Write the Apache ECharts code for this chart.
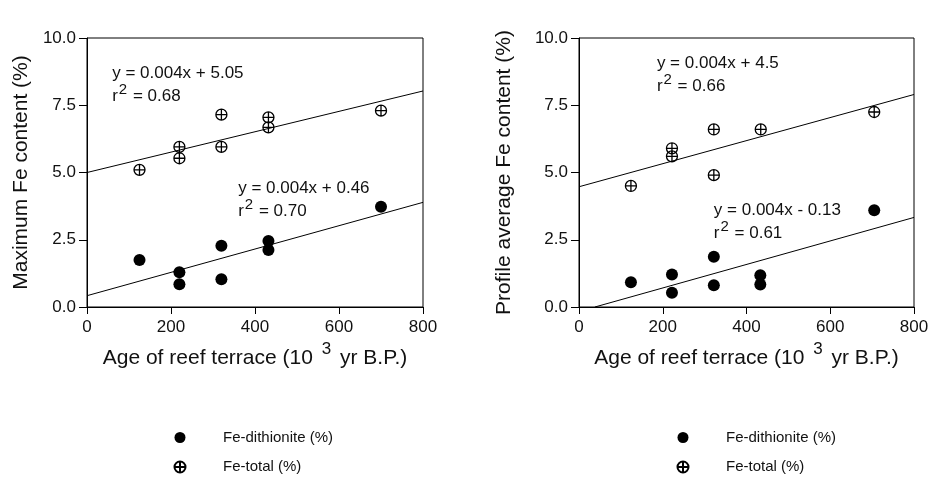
<!DOCTYPE html>
<html>
<head>
<meta charset="utf-8">
<title>Fe content vs reef terrace age</title>
<script src="https://cdn.jsdelivr.net/npm/echarts@6/dist/echarts.min.js"></script>
</head>
<body style="margin:0;background:#fff">
<div id="main" style="width:935px;height:480px;"></div>
<script>
// terrace ages (10^3 yr B.P.) and Fe values (%)
var ageLeft = [125, 220, 220, 320, 320, 432, 432, 700];
var dithLeft = [1.75, 1.29, 0.85, 2.28, 1.03, 2.45, 2.12, 3.73];
var totalLeft = [5.1, 5.95, 5.53, 7.15, 5.95, 7.05, 6.68, 7.3];

var ageRightDith = [124, 222, 222, 322, 322, 433, 433, 705];
var dithRight = [0.92, 1.21, 0.53, 1.87, 0.81, 1.18, 0.84, 3.6];
var ageRightTotal = [124, 222, 222, 322, 322, 434, 705];
var totalRight = [4.5, 5.9, 5.6, 6.6, 4.9, 6.6, 7.25];

// regression lines as drawn (end points)
var fitLeftTotal = [[0, 5.0], [800, 8.03]];
var fitLeftDith = [[0, 0.42], [800, 3.89]];
var fitRightTotal = [[0, 4.47], [800, 7.9]];
var fitRightDith = [[38, 0], [800, 3.33]];

// equation labels: [grid, x, y, equation, r2]
var notes = [
    [0, 60, 8.55, 'y = 0.004x + 5.05', '0.68'],
    [0, 360, 4.27, 'y = 0.004x + 0.46', '0.70'],
    [1, 186, 8.92, 'y = 0.004x + 4.5', '0.66'],
    [1, 322, 3.45, 'y = 0.004x - 0.13', '0.61']
];

var FONT = 'Liberation Sans, Arial, sans-serif';
var plusCircle = 'path://M10,0A10,10 0 1,1 -10,0A10,10 0 1,1 10,0ZM-10,0L10,0M0,-10L0,10';

function pairs(xs, ys) {
    return xs.map(function (x, i) { return [x, ys[i]]; });
}

function xAxisFor(i) {
    return {
        gridIndex: i, type: 'value', min: 0, max: 800, interval: 200,
        name: '{n|Age of reef terrace (10 }{s|3}{n| yr B.P.)}',
        nameLocation: 'middle', nameGap: 32,
        nameTextStyle: {
            fontFamily: FONT, color: '#111',
            rich: {
                n: { fontSize: 21, fontFamily: FONT, color: '#111', lineHeight: 28, verticalAlign: 'bottom' },
                s: { fontSize: 17, fontFamily: FONT, color: '#111', lineHeight: 28, verticalAlign: 'top', padding: [0, 3, 0, 3] }
            }
        },
        axisLine: { show: true, lineStyle: { color: '#000', width: 1 } },
        axisTick: { show: true, length: 7, lineStyle: { color: '#000' } },
        axisLabel: { fontSize: 17, fontFamily: FONT, color: '#111', margin: 12 },
        splitLine: { show: false }
    };
}

function yAxisFor(i, name, gap) {
    return {
        gridIndex: i, type: 'value', min: 0, max: 10, interval: 2.5,
        name: name, nameLocation: 'middle', nameGap: gap,
        nameTextStyle: { fontSize: 21, fontFamily: FONT, color: '#111' },
        axisLine: { show: true, lineStyle: { color: '#000', width: 1 } },
        axisTick: { show: true, length: 8, lineStyle: { color: '#000' } },
        axisLabel: {
            fontSize: 17, fontFamily: FONT, color: '#111', margin: 11,
            formatter: function (v) { return v.toFixed(1); }
        },
        splitLine: { show: false }
    };
}

function dots(i, data) {
    return {
        name: 'Fe-dithionite (%)', type: 'scatter', xAxisIndex: i, yAxisIndex: i,
        data: data, symbol: 'circle', symbolSize: 12,
        itemStyle: { color: '#000', opacity: 1 }, z: 3
    };
}

function crosses(i, data) {
    return {
        name: 'Fe-total (%)', type: 'scatter', xAxisIndex: i, yAxisIndex: i,
        data: data, symbol: plusCircle, symbolSize: 11, symbolKeepAspect: true,
        itemStyle: { color: 'none', borderColor: '#000', borderWidth: 1.3, opacity: 1 }, z: 3
    };
}

function fit(i, data) {
    return {
        type: 'line', xAxisIndex: i, yAxisIndex: i, data: data,
        symbol: 'none', silent: true,
        lineStyle: { color: '#000', width: 1 }, z: 2
    };
}

function legendAt(left) {
    return {
        orient: 'vertical', left: left, top: 430, padding: 0, itemGap: 14,
        itemWidth: 76, itemHeight: 11,
        data: ['Fe-dithionite (%)', 'Fe-total (%)'],
        textStyle: { fontSize: 15, lineHeight: 14, fontFamily: FONT, color: '#111' },
        selectedMode: false
    };
}

var myChart = echarts.init(document.getElementById('main'));

myChart.setOption({
    backgroundColor: '#fff',
    animation: false,
    grid: [
        { left: 87, top: 38, width: 336, height: 269, show: true, borderColor: '#000', borderWidth: 1 },
        { left: 579, top: 38, width: 335, height: 269, show: true, borderColor: '#000', borderWidth: 1 }
    ],
    xAxis: [xAxisFor(0), xAxisFor(1)],
    yAxis: [
        yAxisFor(0, 'Maximum Fe content (%)', 55),
        yAxisFor(1, 'Profile average Fe content (%)', 64)
    ],
    legend: [legendAt(172), legendAt(675)],
    series: [
        fit(0, fitLeftTotal),
        fit(0, fitLeftDith),
        dots(0, pairs(ageLeft, dithLeft)),
        crosses(0, pairs(ageLeft, totalLeft)),
        fit(1, fitRightTotal),
        fit(1, fitRightDith),
        dots(1, pairs(ageRightDith, dithRight)),
        crosses(1, pairs(ageRightTotal, totalRight))
    ]
});

// place the regression equations at data positions
var graphics = notes.map(function (n) {
    var p = myChart.convertToPixel({ gridIndex: n[0] }, [n[1], n[2]]);
    return {
        type: 'text', left: p[0], top: p[1] - 12,
        style: {
            text: '{a|' + n[3] + '}\n{a|r}{s|2}{a| = ' + n[4] + '}',
            fontFamily: FONT,
            rich: {
                a: { fontSize: 17, fontFamily: FONT, fill: '#111', lineHeight: 23, verticalAlign: 'bottom' },
                s: { fontSize: 15, fontFamily: FONT, fill: '#111', lineHeight: 23, verticalAlign: 'top', padding: [0, 1, 0, 1] }
            }
        }
    };
});
myChart.setOption({ graphic: graphics });
</script>
</body>
</html>
